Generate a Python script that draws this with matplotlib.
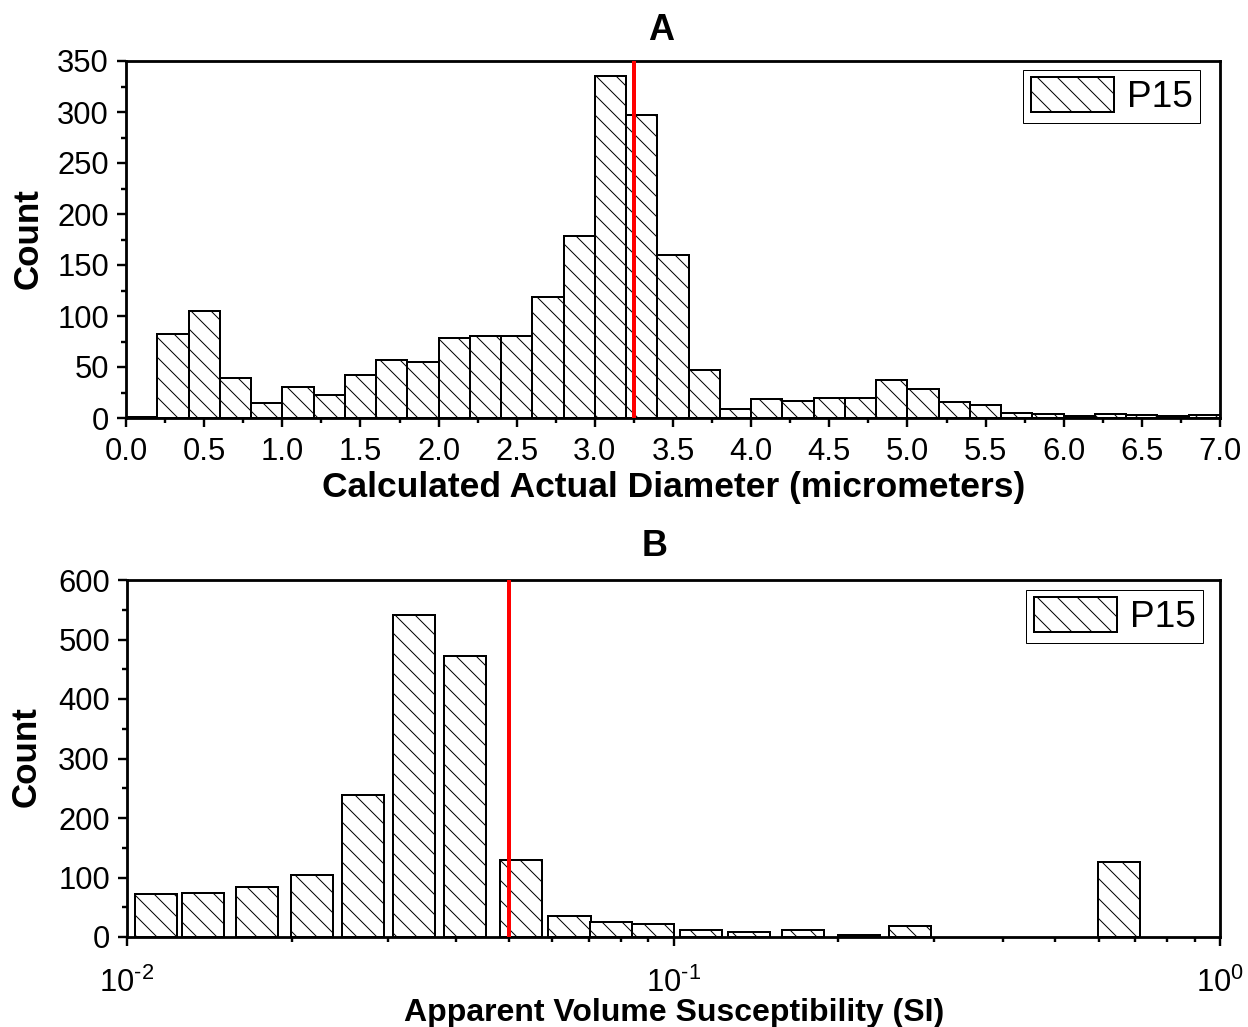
import numpy as np
import matplotlib
matplotlib.use("Agg")
import matplotlib.pyplot as plt
from matplotlib.ticker import MultipleLocator, LogLocator, NullFormatter, FuncFormatter

# ---------------- data ----------------
# Panel A: histogram of calculated actual diameter (bin width 0.2 um)
diam_bin_left = [0.0, 0.2, 0.4, 0.6, 0.8, 1.0, 1.2, 1.4, 1.6, 1.8,
                 2.0, 2.2, 2.4, 2.6, 2.8, 3.0, 3.2, 3.4, 3.6, 3.8,
                 4.0, 4.2, 4.4, 4.6, 4.8, 5.0, 5.2, 5.4, 5.6, 5.8,
                 6.0, 6.2, 6.4, 6.6, 6.8]
diam_counts = [1, 82, 105, 39, 15, 30, 23, 42, 57, 55,
               78, 80, 80, 119, 178, 335, 297, 160, 47, 9,
               19, 17, 20, 20, 37, 28, 16, 13, 5, 4,
               2, 4, 3, 2, 3]
diam_bin_width = 0.2
diam_marker = 3.25

# Panel B: histogram of apparent volume susceptibility (log bins)
sus_bin_center = [0.01128, 0.01379, 0.01730, 0.02181, 0.02708, 0.03353,
                  0.04150, 0.05252, 0.06453, 0.07677, 0.09170, 0.1121,
                  0.1375, 0.1725, 0.2182, 0.2704, 0.6530]
sus_counts = [73, 74, 84, 105, 239, 542, 472, 130, 36, 26, 22, 11,
              8, 11, 3, 19, 126]
sus_bar_halfwidth_decades = 0.0385
sus_marker = 0.05

series_label = "P15"
titles = ["A", "B"]
xlabels = ["Calculated Actual Diameter (micrometers)",
           "Apparent Volume Susceptibility (SI)"]
ylabel = "Count"

# ---------------- style ----------------
W, H, DPI = 1248, 1027, 60
PT = 72.0 / DPI  # points per pixel

plt.rcParams["font.family"] = ["Liberation Sans", "DejaVu Sans"]
plt.rcParams["mathtext.fontset"] = "custom"
plt.rcParams["mathtext.rm"] = "Liberation Sans"
plt.rcParams["mathtext.default"] = "regular"
plt.rcParams["axes.unicode_minus"] = False
plt.rcParams["hatch.linewidth"] = 1.0 * PT
plt.rcParams["hatch.color"] = "black"

def fx(px):
    return px / W

def fy(py):
    return 1 - py / H

fig = plt.figure(figsize=(W / DPI, H / DPI), dpi=DPI)
fig.patch.set_facecolor("white")

axA = fig.add_axes([fx(126), fy(418), fx(1220) - fx(126), fy(61) - fy(418)])
axB = fig.add_axes([fx(127), fy(937), fx(1220) - fx(127), fy(580) - fy(937)])

tick_fs = 31 * PT
title_fs = 36 * PT
legend_fs = 37 * PT
edge_lw = 2.0 * PT
spine_lw = 2.8 * PT

def style_axes(ax, xpad):
    for s in ax.spines.values():
        s.set_linewidth(spine_lw)
        s.set_color("black")
    ax.tick_params(which="major", direction="out", length=9 * PT, width=2.4 * PT,
                   labelsize=tick_fs, top=False, right=False)
    ax.tick_params(which="minor", direction="out", length=5 * PT, width=2.4 * PT,
                   top=False, right=False)
    ax.tick_params(axis="x", which="major", pad=xpad * PT)
    ax.tick_params(axis="y", which="major", pad=8 * PT)

# ---- Panel A ----
axA.bar(diam_bin_left, diam_counts, width=diam_bin_width, align="edge",
        facecolor="white", edgecolor="black", linewidth=edge_lw, hatch="\\",
        label=series_label, zorder=2)
axA.axvline(diam_marker, color="#ff0000", linewidth=4 * PT, zorder=3)
axA.set_xlim(0, 7)
axA.set_ylim(0, 350)
axA.xaxis.set_major_locator(MultipleLocator(0.5))
axA.xaxis.set_minor_locator(MultipleLocator(0.25))
axA.yaxis.set_major_locator(MultipleLocator(50))
axA.yaxis.set_minor_locator(MultipleLocator(25))
axA.xaxis.set_major_formatter(FuncFormatter(lambda v, p: f"{v:.1f}"))
style_axes(axA, 10)

# ---- Panel B ----
c = np.array(sus_bin_center)
left = c * 10 ** (-sus_bar_halfwidth_decades)
right = c * 10 ** (sus_bar_halfwidth_decades)
axB.bar(left, sus_counts, width=right - left, align="edge",
        facecolor="white", edgecolor="black", linewidth=edge_lw, hatch="\\",
        label=series_label, zorder=2)
axB.axvline(sus_marker, color="#ff0000", linewidth=4 * PT, zorder=3)
axB.set_xscale("log")
axB.set_xlim(0.01, 1)
axB.set_ylim(0, 600)
axB.xaxis.set_major_locator(LogLocator(base=10))
axB.xaxis.set_minor_locator(LogLocator(base=10, subs=np.arange(2, 10)))
axB.xaxis.set_minor_formatter(NullFormatter())


def log_label(v, p):
    n = int(round(np.log10(v)))
    if n < 0:
        return r"$\mathdefault{10^{\text{-}%d}}$" % (-n)
    return r"$\mathdefault{10^{%d}}$" % n


axB.xaxis.set_major_formatter(FuncFormatter(log_label))
axB.yaxis.set_major_locator(MultipleLocator(100))
axB.yaxis.set_minor_locator(MultipleLocator(50))
style_axes(axB, 22)

# ---- labels / titles ----
for ax, t, xl, tpos, xlpos, ylpos, xlfs in [
        (axA, titles[0], xlabels[0], (661, 31), (674, 487), (28, 239), 35.4),
        (axB, titles[1], xlabels[1], (655, 547), (674, 1013), (26, 757), 32)]:
    fig.text(fx(tpos[0]), fy(tpos[1]), t, fontsize=title_fs, fontweight="bold",
             ha="center", va="center")
    ax.set_xlabel(xl, fontsize=xlfs * PT, fontweight="bold", va="center")
    ax.xaxis.set_label_coords(fx(xlpos[0]), fy(xlpos[1]), transform=fig.transFigure)
    ax.set_ylabel(ylabel, fontsize=35 * PT, fontweight="bold", va="center")
    ax.yaxis.set_label_coords(fx(ylpos[0]), fy(ylpos[1]), transform=fig.transFigure)

# ---- legends ----
for ax, anchor in [(axA, (1200, 70)), (axB, (1203, 590))]:
    leg = ax.legend(loc="upper right", bbox_to_anchor=(fx(anchor[0]), fy(anchor[1])),
                    bbox_transform=fig.transFigure, borderaxespad=0,
                    fontsize=legend_fs, frameon=True, fancybox=False, shadow=False,
                    framealpha=1, edgecolor="black", borderpad=0.2,
                    handlelength=2.25, handleheight=1.05, handletextpad=0.35)
    leg.get_frame().set_linewidth(1.0 * PT)

fig.savefig("out.png", dpi=DPI, facecolor="white")
